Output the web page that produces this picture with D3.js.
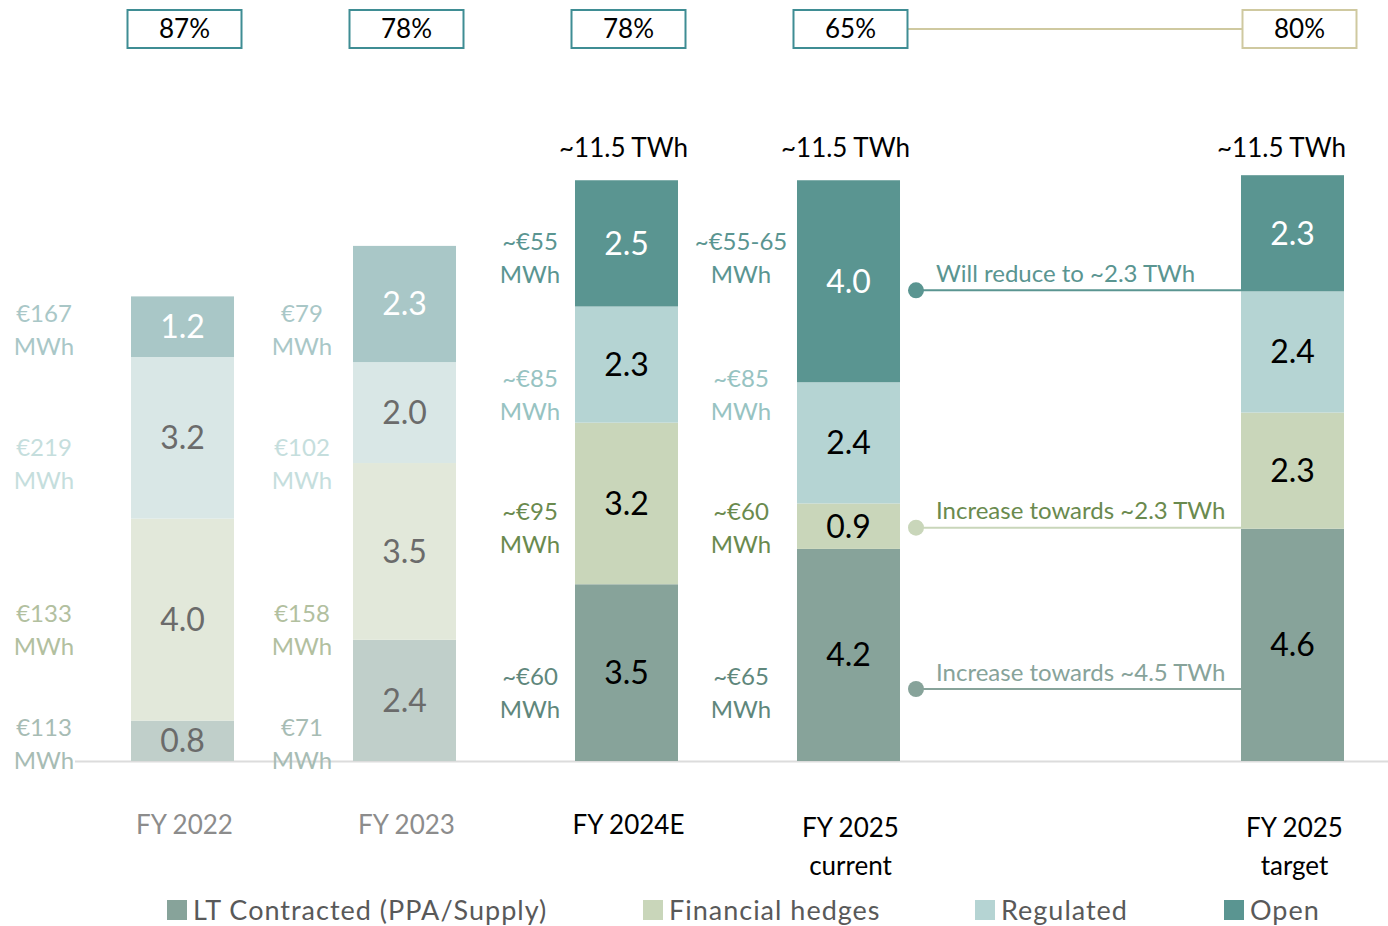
<!DOCTYPE html>
<html lang="en">
<head>
<meta charset="UTF-8">
<title>Hedge profile</title>
<script src="https://cdn.jsdelivr.net/npm/d3@7"></script>
<style>
  body { margin: 0; background: #fff; font-family: 'Lato', 'Open Sans', sans-serif; }
  svg { display: block; }
</style>
</head>
<body>
<div id="root"></div>
<script>
// data
const categories = ["FY 2022", "FY 2023", "FY 2024E", "FY 2025 current", "FY 2025 target"]
const seriesNames = ["LT Contracted (PPA/Supply)", "Financial hedges", "Regulated", "Open"]
const ltContracted = [0.8, 2.4, 3.5, 4.2, 4.6]
const financialHedges = [4.0, 3.5, 3.2, 0.9, 2.3]
const regulated = [3.2, 2.0, 2.3, 2.4, 2.4]
const open = [1.2, 2.3, 2.5, 4.0, 2.3]
const hedgeRatios = ["87%", "78%", "78%", "65%", "80%"]
const totals = [null, null, "~11.5 TWh", "~11.5 TWh", "~11.5 TWh"]
const ltPrice = ["€113", "€71", "~€60", "~€65", null]
const hedgePrice = ["€133", "€158", "~€95", "~€60", null]
const regulatedPrice = ["€219", "€102", "~€85", "~€85", null]
const openPrice = ["€167", "€79", "~€55", "~€55-65", null]
const annotations = ["Will reduce to ~2.3 TWh", "Increase towards ~2.3 TWh", "Increase towards ~4.5 TWh"]

const W = 1388, H = 926
const baseY = 761

const colors = ["#87a39a", "#c9d6ba", "#b5d4d3", "#5a9591"]
const faded = ["#c0cfca", "#e2e8da", "#d9e7e6", "#a9c7c7"]
const priceColorsOld = ["#a7bcb4", "#b2c09f", "#c5dedd", "#a9c7c7"]
const priceColorsNew = ["#5f877c", "#6a8a4e", "#97c3c2", "#5a9591"]
const isOld = i => i < 2

const svg = d3.select("#root").append("svg")
  .attr("width", W).attr("height", H)

const slots = ["FY 2022", "FY 2023", "FY 2024E", "FY 2025 current", "gap", "FY 2025 target"]
const x = d3.scaleBand().domain(slots).range([131, 1344]).paddingInner(0.536).paddingOuter(0)
const y = d3.scaleLinear().domain([0, 12]).range([baseY, baseY - 12 * 50.5])

const rows = categories.map((c, i) => ({
  cat: c, i,
  vals: [ltContracted[i], financialHedges[i], regulated[i], open[i]],
  prices: [ltPrice[i], hedgePrice[i], regulatedPrice[i], openPrice[i]]
}))
const stacked = d3.stack().keys([0, 1, 2, 3]).value((d, k) => d.vals[k])(rows)

// baseline
svg.append("line")
  .attr("x1", 75).attr("x2", W).attr("y1", baseY + 0.5).attr("y2", baseY + 0.5)
  .attr("stroke", "#dcdcdc").attr("stroke-width", 2)

// bars
stacked.forEach((layer, k) => {
  const g = svg.append("g")
  g.selectAll("rect").data(layer).enter().append("rect")
    .attr("x", d => x(d.data.cat))
    .attr("width", x.bandwidth())
    .attr("y", d => y(d[1]))
    .attr("height", d => y(d[0]) - y(d[1]))
    .attr("fill", d => isOld(d.data.i) ? faded[k] : colors[k])
  g.selectAll("text").data(layer).enter().append("text")
    .attr("x", d => x(d.data.cat) + x.bandwidth() / 2)
    .attr("y", d => (y(d[0]) + y(d[1])) / 2)
    .attr("dy", "0.36em")
    .attr("text-anchor", "middle")
    .style("font-size", "32px")
    .attr("fill", d => k === 3 ? "#fff" : (isOld(d.data.i) ? "#6b6b6b" : "#000"))
    .text(d => d.data.vals[k].toFixed(1))
})

// price labels (layout: column centre and first-line position per group)
const priceX = [44, 302, 530, 741]
const priceYOld = [727, 613, 447, 313]
const priceYNew = [676, 511, 378, 241]
rows.forEach(r => {
  r.prices.forEach((p, k) => {
    if (!p) return
    const yy = isOld(r.i) ? priceYOld[k] : priceYNew[k]
    const t = svg.append("text")
      .attr("x", priceX[r.i]).attr("y", yy)
      .attr("text-anchor", "middle")
      .style("font-size", "24px")
      .attr("fill", isOld(r.i) ? priceColorsOld[k] : priceColorsNew[k])
    t.append("tspan").attr("x", priceX[r.i]).attr("dy", "0.36em").text(p)
    t.append("tspan").attr("x", priceX[r.i]).attr("dy", "1.4em").text("MWh")
  })
})

// totals
svg.selectAll(".total").data(rows.filter(r => totals[r.i])).enter().append("text")
  .attr("class", "total")
  .attr("x", r => r.i === 4 ? x(r.cat) + x.bandwidth() + 2 : x(r.cat) + x.bandwidth() / 2 - 3)
  .attr("y", 148).attr("dy", "0.36em")
  .attr("text-anchor", r => r.i === 4 ? "end" : "middle")
  .style("font-size", "26px").attr("fill", "#000")
  .text(r => totals[r.i])

// hedge ratio boxes
const boxW = 114, boxH = 38, boxY = 10
svg.append("line")
  .attr("x1", x("FY 2025 current") + x.bandwidth() / 2 + 2 + boxW / 2)
  .attr("x2", x("FY 2025 target") + x.bandwidth() / 2 + 7 - boxW / 2)
  .attr("y1", 29).attr("y2", 29)
  .attr("stroke", "#cfc9a0").attr("stroke-width", 2)
const boxes = svg.selectAll(".box").data(rows).enter().append("g")
  .attr("transform", r => `translate(${x(r.cat) + x.bandwidth() / 2 + (r.i === 4 ? 7 : 2)},${boxY})`)
boxes.append("rect")
  .attr("x", -boxW / 2).attr("width", boxW).attr("height", boxH)
  .attr("fill", "#fff").attr("stroke", r => r.i === 4 ? "#cfc9a0" : "#3f8d94").attr("stroke-width", 2)
boxes.append("text")
  .attr("y", boxH / 2).attr("dy", "0.36em").attr("text-anchor", "middle")
  .style("font-size", "26px").attr("fill", "#000")
  .text(r => hedgeRatios[r.i])

// category labels
const catText = svg.selectAll(".cat").data(rows).enter().append("text")
  .attr("text-anchor", "middle")
  .style("font-size", "26px")
  .attr("fill", r => isOld(r.i) ? "#8c8c8c" : "#000")
catText.each(function (r) {
  const cx = x(r.cat) + x.bandwidth() / 2 + 2
  const parts = r.i >= 3 ? [r.cat.slice(0, 7), r.cat.slice(8)] : [r.cat]
  const t = d3.select(this)
  parts.forEach((p, j) => {
    t.append("tspan").attr("x", cx).attr("y", (r.i >= 3 ? 828 : 825) + j * 38).attr("dy", "0.36em").text(p)
  })
})

// annotations linking current to target
const targetX = x("FY 2025 target")
const dotX = 916
const annY = [y(ltContracted[4] + financialHedges[4] + regulated[4]), y(ltContracted[4]), 690]
const annColor = ["#5a9591", "#c9d6ba", "#87a39a"]
const annText = ["#5a9591", "#6a8a4e", "#87a39a"]
annotations.forEach((a, j) => {
  svg.append("line").attr("x1", dotX).attr("x2", targetX)
    .attr("y1", annY[j] - 1).attr("y2", annY[j] - 1)
    .attr("stroke", annColor[j]).attr("stroke-width", 2)
  svg.append("circle").attr("cx", dotX).attr("cy", annY[j] - 1).attr("r", 8).attr("fill", annColor[j])
  svg.append("text").attr("x", 936).attr("y", annY[j] - 18)
    .attr("dy", "0.36em")
    .style("font-size", "24px").attr("fill", annText[j])
    .text(a)
})

// legend
const legendX = [167, 643, 975, 1224]
const legend = svg.selectAll(".leg").data(seriesNames).enter().append("g")
  .attr("transform", (d, i) => `translate(${legendX[i]},900)`)
legend.append("rect").attr("width", 20).attr("height", 20).attr("fill", (d, i) => colors[i])
legend.append("text").attr("x", 26).attr("y", 10).attr("dy", "0.36em")
  .style("font-size", "27px").style("letter-spacing", "1px")
  .attr("fill", "#595959").text(d => d)
</script>
</body>
</html>
